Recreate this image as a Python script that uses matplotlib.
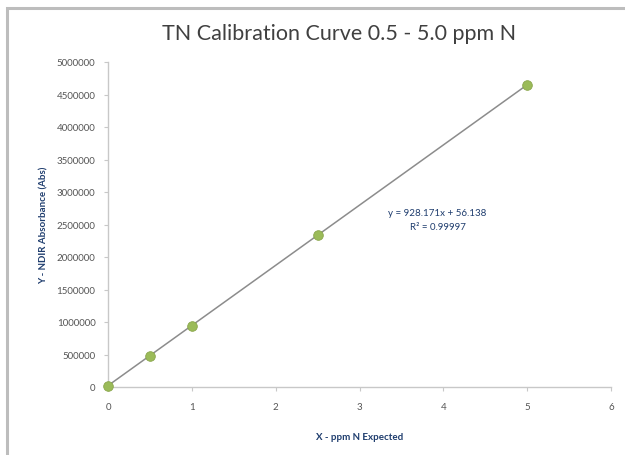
import numpy as np
import matplotlib.pyplot as plt
from matplotlib.patches import Rectangle

# Calibration standards (ppm N) and measured NDIR response
ppm_expected = [0, 0.5, 1.0, 2.5, 5.0]
absorbance = [20000, 480000, 945000, 2345000, 4645000]

x_ticks = [0, 1, 2, 3, 4, 5, 6]
y_ticks = [0, 500000, 1000000, 1500000, 2000000, 2500000,
           3000000, 3500000, 4000000, 4500000, 5000000]

equation_text = 'y = 928.171x + 56.138\nR² = 0.99997'

plt.rcParams['font.family'] = ['Lato', 'DejaVu Sans']

fig = plt.figure(figsize=(6.25, 4.56), dpi=100)

# outer chart frame (cropped on right/bottom like the screenshot)
fig.patches.append(Rectangle((7 / 625, -0.05), 1.2, 1 - 9 / 456 + 0.05,
                             transform=fig.transFigure, fill=False,
                             edgecolor='#bdbdbd', linewidth=2.2))

ax = fig.add_axes([108 / 625, 1 - 388 / 456, 503 / 625, 325 / 456])

# linear trendline
coef = np.polyfit(ppm_expected, absorbance, 1)
fit_x = np.array([min(ppm_expected), max(ppm_expected)])
ax.plot(fit_x, np.polyval(coef, fit_x), color='#8c8c8c', linewidth=1.1, zorder=2)

ax.scatter(ppm_expected, absorbance, s=48, color='#9bbb59',
           edgecolor='#8aa64c', linewidth=0.6, zorder=3, clip_on=False)

ax.set_xlim(0, 6)
ax.set_ylim(0, 5000000)
ax.set_xticks(x_ticks)
ax.set_yticks(y_ticks)
ax.set_yticklabels([str(v) for v in y_ticks])

for side in ['top', 'right']:
    ax.spines[side].set_visible(False)
for side in ['left', 'bottom']:
    ax.spines[side].set_color('#c8c8c8')
    ax.spines[side].set_linewidth(1.0)
ax.tick_params(axis='both', colors='#c8c8c8', labelcolor='#555555',
               labelsize=7, length=3, direction='out')
ax.tick_params(axis='x', pad=8)
ax.tick_params(axis='y', pad=6)

fig.text(339 / 625, 1 - 34 / 456, 'TN Calibration Curve 0.5 - 5.0 ppm N',
         fontsize=15.5, color='#404040', ha='center', va='center')
ax.set_xlabel('X - ppm N Expected', fontsize=7, color='#1f3d6e',
              fontweight='bold', labelpad=15)
ax.set_ylabel('Y - NDIR Absorbance (Abs)', fontsize=7, color='#1f3d6e',
              fontweight='bold', labelpad=6)

ax.text(3.93, 2570000, equation_text, fontsize=7, color='#1f3d6e',
        ha='center', va='center', linespacing=1.7)

plt.savefig('out.png', dpi=100)
plt.close()
